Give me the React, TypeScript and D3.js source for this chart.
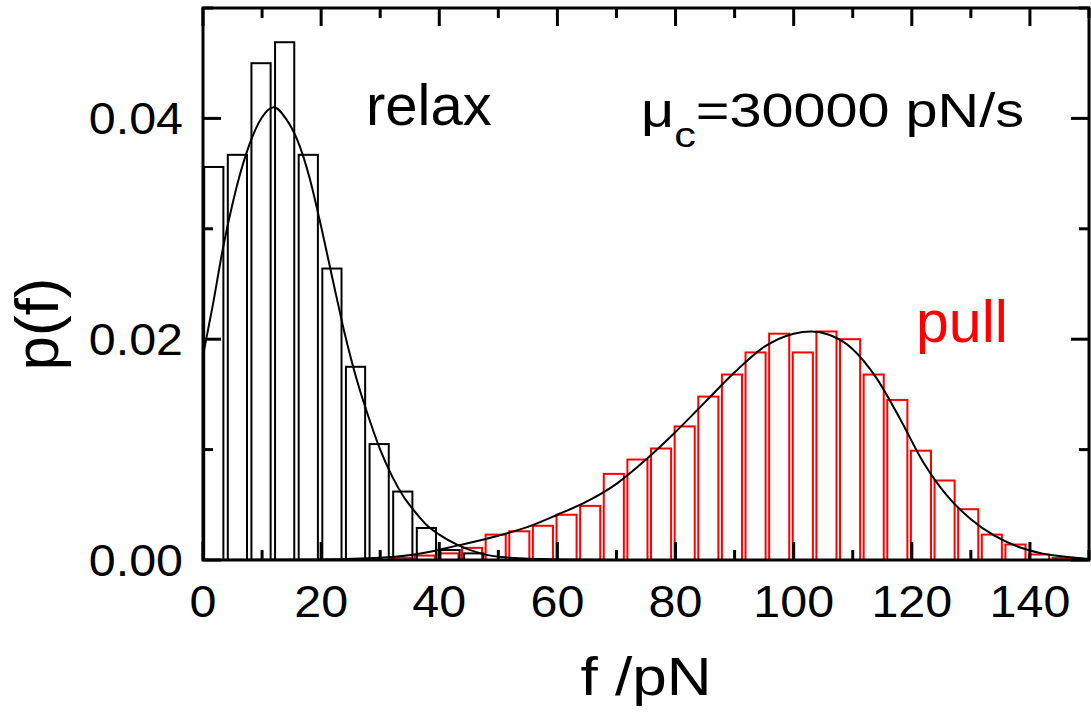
import React from 'react';
import * as d3 from 'd3';

// ---- data ----
const relaxBins = [0, 4, 8, 12, 16, 20, 24, 28, 32, 36, 40, 44];
const relaxP = [0.0356, 0.0367, 0.045, 0.0469, 0.0367, 0.0264, 0.0175, 0.0105, 0.0062, 0.0029, 0.0009, 0.0006];

const pullBins = [32, 36, 40, 44, 48, 52, 56, 60, 64, 68, 72, 76, 80, 84, 88, 92, 96, 100, 104, 108, 112, 116, 120, 124, 128, 132, 136, 140, 144];
const pullP = [0.0002, 0.0004, 0.0006, 0.0011, 0.0023, 0.0026, 0.0031, 0.0041, 0.0049, 0.0078, 0.0091, 0.0101, 0.0121, 0.0148, 0.0168, 0.0188, 0.0205, 0.0188, 0.0207, 0.02, 0.0168, 0.0145, 0.0099, 0.0072, 0.0046, 0.0023, 0.0014, 0.0005, 0.0002];

const relaxFitF = [0, 1.7, 3.4, 5.1, 6.3, 7.9, 10, 12, 14, 16, 18, 20, 22, 24, 26, 28, 30, 32, 34, 36, 38, 40, 43, 47, 52, 60, 70, 150];
const relaxFitP = [0.0185, 0.0232, 0.0283, 0.0325, 0.035, 0.0377, 0.0401, 0.041, 0.04, 0.038, 0.0347, 0.0302, 0.0253, 0.0205, 0.0164, 0.013, 0.01, 0.0076, 0.0057, 0.0043, 0.0031, 0.0023, 0.0014, 0.0006, 0.0002, 0.00005, 0, 0];

const pullFitF = [0, 20, 30, 38, 43, 50, 55, 60, 65, 70, 75, 80, 85, 90, 95, 100, 103, 106, 110, 114, 118, 122, 126, 130, 134, 138, 142, 146, 150];
const pullFitP = [0, 0.00005, 0.0002, 0.0007, 0.0013, 0.0022, 0.003, 0.0041, 0.0053, 0.0069, 0.0091, 0.0116, 0.0143, 0.017, 0.0193, 0.0205, 0.0207, 0.0204, 0.0191, 0.0165, 0.0128, 0.0088, 0.0058, 0.0037, 0.0022, 0.0012, 0.0006, 0.0003, 0.0001];

const xMajor = [0, 20, 40, 60, 80, 100, 120, 140];
const xMinor = [10, 30, 50, 70, 90, 110, 130, 150];
const yMajor = [0, 0.02, 0.04];
const yMajorLabels = ['0.00', '0.02', '0.04'];
const yMinor = [0.01, 0.03, 0.05];

const FONT = '"Liberation Sans", Arial, Helvetica, sans-serif';

export default function App() {
  const W = 1091, H = 713;
  const L = 203, R = 1089, T = 8, B = 560;
  const x = d3.scaleLinear().domain([0, 150]).range([L, R]);
  const y = d3.scaleLinear().domain([0, 0.05]).range([B, T]);

  const line = d3
    .line<[number, number]>()
    .x((d) => x(d[0]))
    .y((d) => y(d[1]))
    .curve(d3.curveMonotoneX);

  const relaxPath = line(relaxFitF.map((f, i) => [f, relaxFitP[i]] as [number, number])) || '';
  const pullPath = line(pullFitF.map((f, i) => [f, pullFitP[i]] as [number, number])) || '';

  const majorLen = 18, minorLen = 10;

  return (
    <svg width={W} height={H} style={{ position: 'absolute', left: 0, top: 0, background: '#fff' }} fontFamily={FONT}>
      <rect x={0} y={0} width={W} height={H} fill="#fff" />
      <defs>
        <clipPath id="plot">
          <rect x={L} y={T} width={R - L} height={B - T} />
        </clipPath>
      </defs>
      <g clipPath="url(#plot)">
        {pullBins.map((b, i) => (
          <rect
            key={'p' + i}
            x={x(b - 0.15)}
            y={y(pullP[i])}
            width={x(b + 3.25) - x(b - 0.15)}
            height={B - y(pullP[i])}
            fill="none"
            stroke="#ff0000"
            strokeWidth={2}
          />
        ))}
        {relaxBins.map((b, i) => (
          <rect
            key={'r' + i}
            x={x(b + 0.2)}
            y={y(relaxP[i])}
            width={x(b + 3.45) - x(b + 0.2)}
            height={B - y(relaxP[i])}
            fill="none"
            stroke="#000"
            strokeWidth={2}
          />
        ))}
        <path d={relaxPath} fill="none" stroke="#000" strokeWidth={2} />
        <path d={pullPath} fill="none" stroke="#000" strokeWidth={2} />
      </g>

      {/* ticks */}
      <g stroke="#000" strokeWidth={3}>
        {xMajor.map((v) => (
          <g key={'xm' + v}>
            <line x1={x(v)} x2={x(v)} y1={B} y2={B - majorLen} />
            <line x1={x(v)} x2={x(v)} y1={T} y2={T + majorLen} />
          </g>
        ))}
        {xMinor.map((v) => (
          <g key={'xn' + v}>
            <line x1={x(v)} x2={x(v)} y1={B} y2={B - minorLen} />
            <line x1={x(v)} x2={x(v)} y1={T} y2={T + minorLen} />
          </g>
        ))}
        {yMajor.map((v) => (
          <g key={'ym' + v}>
            <line x1={L} x2={L + majorLen} y1={y(v)} y2={y(v)} />
            <line x1={R} x2={R - majorLen} y1={y(v)} y2={y(v)} />
          </g>
        ))}
        {yMinor.map((v) => (
          <g key={'yn' + v}>
            <line x1={L} x2={L + minorLen} y1={y(v)} y2={y(v)} />
            <line x1={R} x2={R - minorLen} y1={y(v)} y2={y(v)} />
          </g>
        ))}
      </g>

      {/* frame */}
      <rect x={L} y={T} width={R - L} height={B - T} fill="none" stroke="#000" strokeWidth={3} />

      {/* tick labels */}
      {xMajor.map((v) => (
        <text key={'xl' + v} transform={`translate(${x(v)},617) scale(1.1,1)`} textAnchor="middle" fontSize={44} fill="#000">
          {v}
        </text>
      ))}
      {yMajor.map((v, i) => (
        <text key={'yl' + v} transform={`translate(183,${y(v) + 16}) scale(1.1,1)`} textAnchor="end" fontSize={44} fill="#000">
          {yMajorLabels[i]}
        </text>
      ))}

      {/* axis titles */}
      <text transform="translate(646,695) scale(1.15,1)" textAnchor="middle" fontSize={54} fill="#000">
        f /pN
      </text>
      <text transform="translate(58,324) rotate(-90)" textAnchor="middle" fontSize={62} fill="#000">
        p(f)
      </text>

      {/* annotations */}
      <text x={366} y={125} fontSize={58} fill="#000">
        relax
      </text>
      <text x={916} y={342} fontSize={59} fill="#ff0000">
        pull
      </text>
      <text transform="translate(641,127) scale(1.2,1)" fontSize={48} fill="#000">
        <tspan>μ</tspan>
        <tspan fontSize={36} dy={20}>c</tspan>
        <tspan dy={-20}>=30000 pN/s</tspan>
      </text>
    </svg>
  );
}
